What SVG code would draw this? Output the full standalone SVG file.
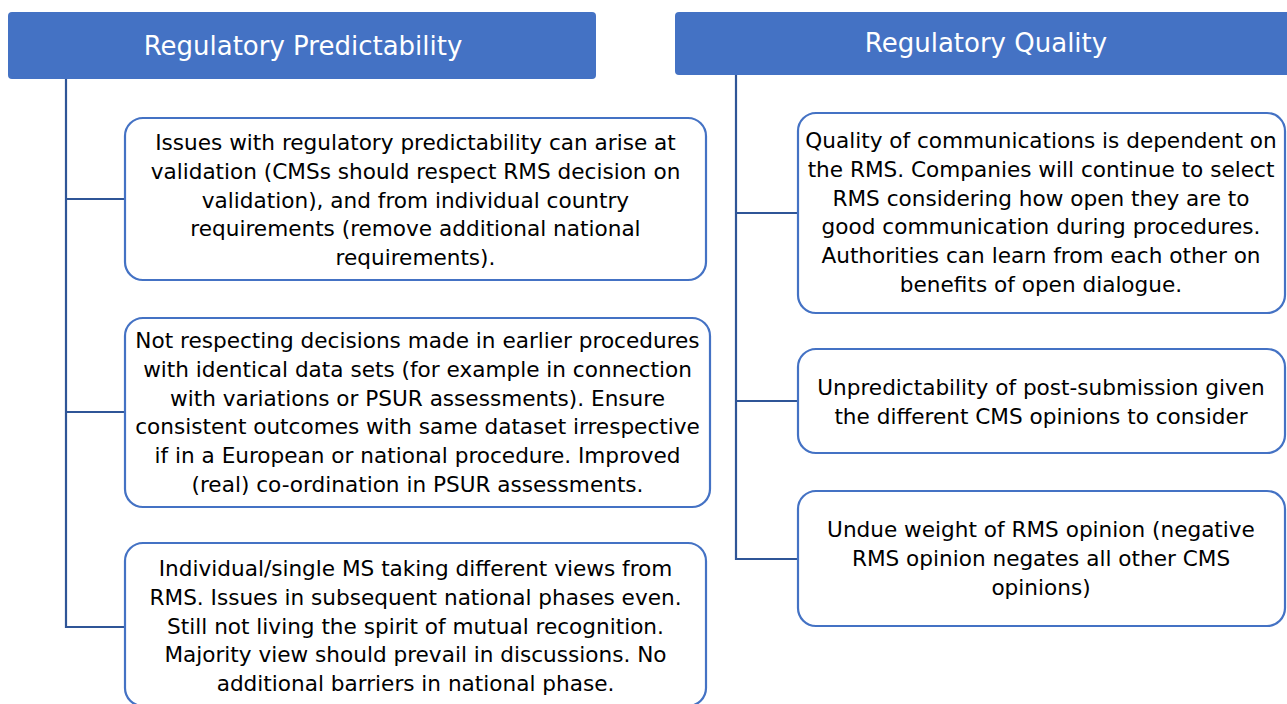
<svg xmlns="http://www.w3.org/2000/svg" width="1287" height="704" viewBox="0 0 1287 704">
<style>
.hdr{fill:#4472C4;}
.htxt{fill:#ffffff;font-family:"DejaVu Sans","Liberation Sans",Arial,sans-serif;font-size:26px;text-anchor:middle;}
.box{fill:#ffffff;stroke:#4472C4;stroke-width:2.2;}
.btxt{fill:#000000;font-family:"DejaVu Sans","Liberation Sans",Arial,sans-serif;font-size:21.6px;text-anchor:middle;}
.conn{fill:none;stroke:#2F5597;stroke-width:2.2;}
</style>
<rect x="0" y="0" width="1287" height="704" fill="#ffffff"/>
<g id="connectors">
<path class="conn" d="M66,79 V627 H125 M66,199 H125 M66,412 H125"/>
<path class="conn" d="M736,75 V559 H798 M736,213 H798 M736,401 H798"/>
</g>
<g id="header-predictability">
<rect class="hdr" x="8" y="12" width="588" height="67" rx="4"/>
<text class="htxt" x="303" y="55">Regulatory Predictability</text>
</g>
<g id="header-quality">
<rect class="hdr" x="675" y="12" width="630" height="63" rx="4"/>
<text class="htxt" x="986" y="52">Regulatory Quality</text>
</g>
<g id="p1">
<rect class="box" x="125" y="118" width="581" height="162" rx="18"/>
<text class="btxt"><tspan x="415.5" y="150">Issues with regulatory predictability can arise at</tspan><tspan x="415.5" y="178.8">validation (CMSs should respect RMS decision on</tspan><tspan x="415.5" y="207.6">validation), and from individual country</tspan><tspan x="415.5" y="236.4">requirements (remove additional national</tspan><tspan x="415.5" y="265.2">requirements).</tspan></text>
</g>
<g id="p2">
<rect class="box" x="125" y="318" width="585" height="189" rx="18"/>
<text class="btxt"><tspan x="417.5" y="348">Not respecting decisions made in earlier procedures</tspan><tspan x="417.5" y="376.8">with identical data sets (for example in connection</tspan><tspan x="417.5" y="405.6">with variations or PSUR assessments). Ensure</tspan><tspan x="417.5" y="434.4">consistent outcomes with same dataset irrespective</tspan><tspan x="417.5" y="463.2">if in a European or national procedure. Improved</tspan><tspan x="417.5" y="492">(real) co-ordination in PSUR assessments.</tspan></text>
</g>
<g id="p3">
<rect class="box" x="125" y="543" width="581" height="163" rx="18"/>
<text class="btxt"><tspan x="415.5" y="576">Individual/single MS taking different views from</tspan><tspan x="415.5" y="604.8">RMS. Issues in subsequent national phases even.</tspan><tspan x="415.5" y="633.6">Still not living the spirit of mutual recognition.</tspan><tspan x="415.5" y="662.4">Majority view should prevail in discussions. No</tspan><tspan x="415.5" y="691.2">additional barriers in national phase.</tspan></text>
</g>
<g id="q1">
<rect class="box" x="798" y="113" width="487" height="200" rx="18"/>
<text class="btxt"><tspan x="1041" y="148">Quality of communications is dependent on</tspan><tspan x="1041" y="176.8">the RMS. Companies will continue to select</tspan><tspan x="1041" y="205.6">RMS considering how open they are to</tspan><tspan x="1041" y="234.4">good communication during procedures.</tspan><tspan x="1041" y="263.2">Authorities can learn from each other on</tspan><tspan x="1041" y="292">benefits of open dialogue.</tspan></text>
</g>
<g id="q2">
<rect class="box" x="798" y="349" width="487" height="104" rx="18"/>
<text class="btxt"><tspan x="1041" y="395">Unpredictability of post-submission given</tspan><tspan x="1041" y="423.8">the different CMS opinions to consider</tspan></text>
</g>
<g id="q3">
<rect class="box" x="798" y="491" width="487" height="135" rx="18"/>
<text class="btxt"><tspan x="1041" y="537">Undue weight of RMS opinion (negative</tspan><tspan x="1041" y="565.8">RMS opinion negates all other CMS</tspan><tspan x="1041" y="594.6">opinions)</tspan></text>
</g>
</svg>
